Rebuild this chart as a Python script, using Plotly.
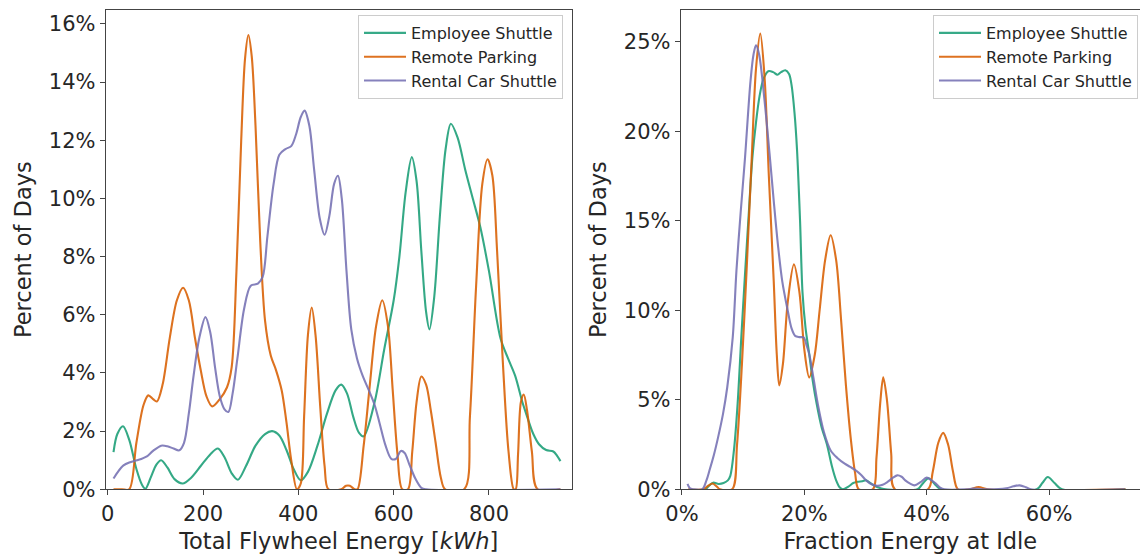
import plotly.graph_objects as go

# ---------------- data (percent of days) ----------------
series_names = ["Employee Shuttle", "Remote Parking", "Rental Car Shuttle"]
series_colors = ["#1b9e77", "#d95f02", "#7570b3"]

# Left panel: Total Flywheel Energy [kWh]
emp_energy_x = [12, 20, 32, 45, 60, 72, 79, 90, 102, 112, 125, 140, 157, 175, 195, 215, 231, 245, 260, 273,
                290, 310, 330, 345, 360, 375, 390, 405, 420, 440, 460, 478, 490, 502, 515, 527, 537, 560,
                580, 600, 612, 625, 638, 648, 658, 668, 675, 685, 697, 709, 720, 734, 750, 766, 782, 800,
                824, 840, 855, 870, 880, 893, 905, 920, 935, 943, 950]
emp_energy_y = [1.28, 1.9, 2.17, 1.7, 0.7, 0.15, 0.02, 0.4, 0.85, 1.0, 0.75, 0.35, 0.2, 0.4, 0.8, 1.2, 1.4, 1.1,
                0.55, 0.33, 0.8, 1.5, 1.9, 2.0, 1.85, 1.35, 0.7, 0.31, 0.6, 1.5, 2.6, 3.4, 3.6, 3.3, 2.5, 1.95,
                1.82, 3.0, 4.8, 6.5, 8.0, 10.2, 11.42, 10.6, 8.2, 6.1, 5.5, 6.6, 9.4, 11.7, 12.57, 12.1, 11.0,
                10.0, 9.0, 7.5, 5.2, 4.5, 3.9, 3.0, 2.5, 1.9, 1.55, 1.35, 1.3, 1.15, 0.97]

rem_energy_x = [12, 30, 45, 60, 75, 85, 95, 103, 115, 130, 145, 158, 170, 183, 195, 207, 219, 235, 250, 260,
                270, 280, 288, 295, 302, 310, 320, 330, 342, 353, 365, 375, 385, 397, 405, 412, 420, 428,
                436, 446, 455, 463, 490, 500, 508, 518, 524, 537, 550, 563, 576, 588, 598, 608, 618, 630,
                639, 648, 658, 668, 678, 688, 699, 708, 748, 760, 773, 786, 797, 807, 817, 829, 841, 852,
                856, 861, 867, 873, 880, 890, 902, 950]
rem_energy_y = [0.0, 0.0, 0.0, 1.6, 2.9, 3.23, 3.1, 3.02, 3.6, 5.2, 6.5, 6.93, 6.5, 5.2, 4.1, 3.2, 2.85, 3.1,
                3.5, 4.2, 7.5, 12.0, 14.8, 15.62, 14.9, 12.5, 8.5, 5.8, 4.6, 4.1, 3.4, 2.3, 1.0, 0.0, 0.2,
                2.5, 5.3, 6.25, 5.3, 2.8, 0.8, 0.0, 0.0, 0.12, 0.12, 0.0, 0.0, 1.5, 3.6, 5.6, 6.5, 5.6, 3.4,
                1.2, 0.0, 0.0, 1.3, 3.0, 3.88, 3.6, 2.7, 1.6, 0.4, 0.0, 0.0, 2.5, 7.0, 10.5, 11.35, 10.8,
                8.2, 4.4, 1.3, 0.0, 0.0, 1.2, 3.0, 3.26, 2.7, 1.3, 0.0, 0.0]

rent_energy_x = [12, 22, 33, 45, 57, 70, 81, 95, 112, 125, 138, 150, 160, 170, 180, 192, 205, 215, 225, 235,
                 245, 253, 262, 272, 286, 300, 315, 325, 335, 348, 360, 373, 385, 395, 405, 413, 423, 433,
                 445, 455, 465, 475, 483, 491, 501, 511, 523, 535, 548, 560, 570, 583, 595, 605, 615, 623,
                 633, 646, 658, 668, 950]
rent_energy_y = [0.37, 0.62, 0.82, 0.92, 0.98, 1.04, 1.12, 1.32, 1.5, 1.48, 1.4, 1.34, 1.6, 2.6, 3.9, 5.2,
                 5.92, 5.4, 4.2, 3.2, 2.75, 2.66, 3.3, 4.5, 6.2, 7.0, 7.07, 7.3, 8.7, 10.5, 11.5, 11.7, 11.8,
                 12.2, 12.8, 13.02, 12.5, 11.0, 9.3, 8.75, 9.4, 10.5, 10.78, 10.0, 7.5, 5.5, 4.5, 3.9, 3.4,
                 2.9, 2.3, 1.5, 1.05, 1.05, 1.32, 1.25, 0.85, 0.35, 0.05, 0.0, 0.0]

# Right panel: Fraction Energy at Idle [%]
emp_idle_x = [3.9, 4.6, 5.1, 6.0, 6.8, 7.5, 7.9, 8.5, 9.1, 9.7, 10.3, 10.9, 11.5, 12.1, 12.7, 13.3, 14.1,
              14.9, 15.6, 16.2, 16.9, 17.5, 17.9, 18.4, 18.8, 19.3, 19.7, 20.2, 20.8, 21.4, 22.0, 22.8, 23.7,
              24.5, 25.2, 25.8, 26.3, 27.2, 28.0, 28.7, 29.5, 30.1, 31.0, 31.9, 33.0, 38.5, 39.3, 40.3, 41.3,
              42.3, 58.0, 58.9, 59.8, 60.9, 62.1, 72.5]
emp_idle_y = [0.0, 0.25, 0.37, 0.3, 0.35, 0.5, 0.75, 2.2, 4.8, 8.5, 12.0, 15.3, 18.5, 20.5, 22.0, 22.9, 23.35,
              23.3, 23.15, 23.3, 23.4, 23.2, 22.6, 21.0, 19.0, 15.0, 11.0, 9.0, 7.55, 6.0, 4.8, 3.5, 2.5,
              1.3, 0.5, 0.1, 0.0, 0.15, 0.35, 0.42, 0.45, 0.5, 0.3, 0.13, 0.02, 0.0, 0.3, 0.62, 0.3, 0.0,
              0.0, 0.35, 0.69, 0.35, 0.0, 0.0]

rem_idle_x = [1.0, 3.5, 4.3, 5.0, 5.7, 6.2, 8.2, 9.0, 9.8, 10.6, 11.4, 12.1, 12.8, 13.5, 14.2, 15.0, 15.5,
              15.9, 16.5, 17.3, 18.3, 19.2, 20.0, 20.8, 21.7, 22.5, 23.4, 24.3, 25.2, 26.0, 26.8, 27.6, 28.3,
              28.9, 31.2, 31.8, 32.4, 32.9, 33.5, 34.2, 34.8, 40.2, 41.0, 41.9, 42.7, 43.5, 44.3, 45.1, 47.0,
              48.5, 50.0, 72.5]
rem_idle_y = [0.0, 0.0, 0.2, 0.32, 0.15, 0.0, 0.0, 2.5, 7.0, 12.5, 18.5, 23.5, 25.45, 23.0, 17.5, 11.6, 7.5,
              5.8, 7.0, 10.5, 12.56, 11.0, 7.8, 6.25, 7.5, 10.0, 12.8, 14.19, 12.8, 9.5, 5.8, 2.8, 0.9, 0.0,
              0.0, 1.8, 4.8, 6.25, 5.0, 2.0, 0.0, 0.0, 1.0, 2.6, 3.15, 2.5, 1.0, 0.0, 0.0, 0.13, 0.0, 0.0]

rent_idle_x = [0.9, 1.3, 1.8, 3.3, 4.0, 4.5, 5.2, 5.9, 6.7, 7.4, 8.3, 8.9, 9.6, 10.3, 11.2, 11.7, 12.1, 12.6,
               13.5, 14.3, 15.0, 15.7, 16.4, 17.3, 17.9, 18.5, 19.2, 19.9, 20.4, 20.8, 21.5, 22.2, 23.2,
               24.3, 25.4, 26.6, 27.5, 28.4, 29.3, 30.1, 31.0, 31.9, 32.8, 33.6, 34.5, 35.2, 35.9, 36.5,
               37.3, 38.0, 39.0, 40.0, 40.8, 41.5, 42.2, 42.9, 46.5, 47.6, 49.0, 53.0, 54.2, 55.2, 56.2,
               57.0, 72.4]
rent_idle_y = [0.3, 0.05, 0.0, 0.0, 0.5, 1.06, 1.9, 2.9, 4.2, 5.7, 8.5, 12.2, 15.5, 18.5, 22.8, 24.3, 24.8,
               24.3, 21.7, 18.8, 16.1, 13.6, 11.6, 9.96, 9.0, 8.57, 8.5, 8.48, 8.0, 7.55, 6.2, 4.77, 3.2,
               2.17, 1.75, 1.43, 1.25, 1.06, 0.8, 0.5, 0.28, 0.19, 0.25, 0.41, 0.65, 0.78, 0.7, 0.5, 0.32,
               0.22, 0.4, 0.65, 0.5, 0.32, 0.1, 0.0, 0.0, 0.04, 0.0, 0.05, 0.17, 0.22, 0.12, 0.0, 0.0]

left_xticks = [0, 200, 400, 600, 800]
left_yticks = [0, 2, 4, 6, 8, 10, 12, 14, 16]
right_xticks = [0, 20, 40, 60]
right_yticks = [0, 5, 10, 15, 20, 25]

left_xlabels = [str(v) for v in left_xticks]
left_ylabels = [f"{v}%" for v in left_yticks]
right_xlabels = [f"{v}%" for v in right_xticks]
right_ylabels = [f"{v}%" for v in right_yticks]

left_data = [(emp_energy_x, emp_energy_y), (rem_energy_x, rem_energy_y), (rent_energy_x, rent_energy_y)]
right_data = [(emp_idle_x, emp_idle_y), (rem_idle_x, rem_idle_y), (rent_idle_x, rent_idle_y)]

# ---------------- figure ----------------
W, H = 1140, 559
FONT = "DejaVu Sans"
fig = go.Figure()

for (xs, ys), name, col in zip(left_data, series_names, series_colors):
    fig.add_trace(go.Scatter(x=xs, y=ys, name=name, mode="lines",
                             line=dict(color=col, width=2.1, shape="spline", smoothing=0.9),
                             opacity=0.88, xaxis="x", yaxis="y", legend="legend"))
for (xs, ys), name, col in zip(right_data, series_names, series_colors):
    fig.add_trace(go.Scatter(x=xs, y=ys, name=name, mode="lines",
                             line=dict(color=col, width=2.1, shape="spline", smoothing=0.9),
                             opacity=0.88, xaxis="x2", yaxis="y2", legend="legend2"))

ydom = [1 - 489.3 / H, 1 - 10 / H]
axis_common = dict(showline=True, linecolor="#444444", linewidth=1, ticks="outside", ticklen=5,
                   tickwidth=1, tickcolor="#444444", showgrid=False, zeroline=False,
                   tickmode="array", automargin=False,
                   tickfont=dict(family=FONT, size=21, color="#262626"),
                   title_font=dict(family=FONT, size=22.5, color="#262626"))

legend_common = dict(xanchor="right", yanchor="top", itemwidth=42,
                     bgcolor="rgba(255,255,255,0.8)", bordercolor="#cccccc", borderwidth=1,
                     font=dict(family=FONT, size=16, color="#262626"))

fig.update_layout(
    width=W, height=H, autosize=False,
    margin=dict(l=0, r=0, t=0, b=0),
    paper_bgcolor="white", plot_bgcolor="white",
    font=dict(family=FONT, color="#262626"),
    xaxis=dict(domain=[105.7 / W, 571.7 / W], range=[-4.4, 973.6],
               tickvals=left_xticks, ticktext=left_xlabels, mirror=True, anchor="y",
               title=dict(text="Total Flywheel Energy [<i>kWh</i>]", standoff=8), **axis_common),
    yaxis=dict(domain=ydom, range=[0, 16.48], tickvals=left_yticks, ticktext=left_ylabels,
               mirror=True, anchor="x",
               title=dict(text="Percent of Days", standoff=10), **axis_common),
    xaxis2=dict(domain=[680.7 / W, 1.0], range=[-0.21, 74.87],
                tickvals=right_xticks, ticktext=right_xlabels, mirror=True, anchor="y2",
                title=dict(text="Fraction Energy at Idle", standoff=8), **axis_common),
    yaxis2=dict(domain=ydom, range=[0, 26.77], tickvals=right_yticks, ticktext=right_ylabels,
                mirror=False, anchor="x2",
                title=dict(text="Percent of Days", standoff=10), **axis_common),
    legend=dict(x=563 / W, y=1 - 15 / H, **legend_common),
    legend2=dict(x=1138 / W, y=1 - 15 / H, **legend_common),
)

fig.write_html("out.html")
